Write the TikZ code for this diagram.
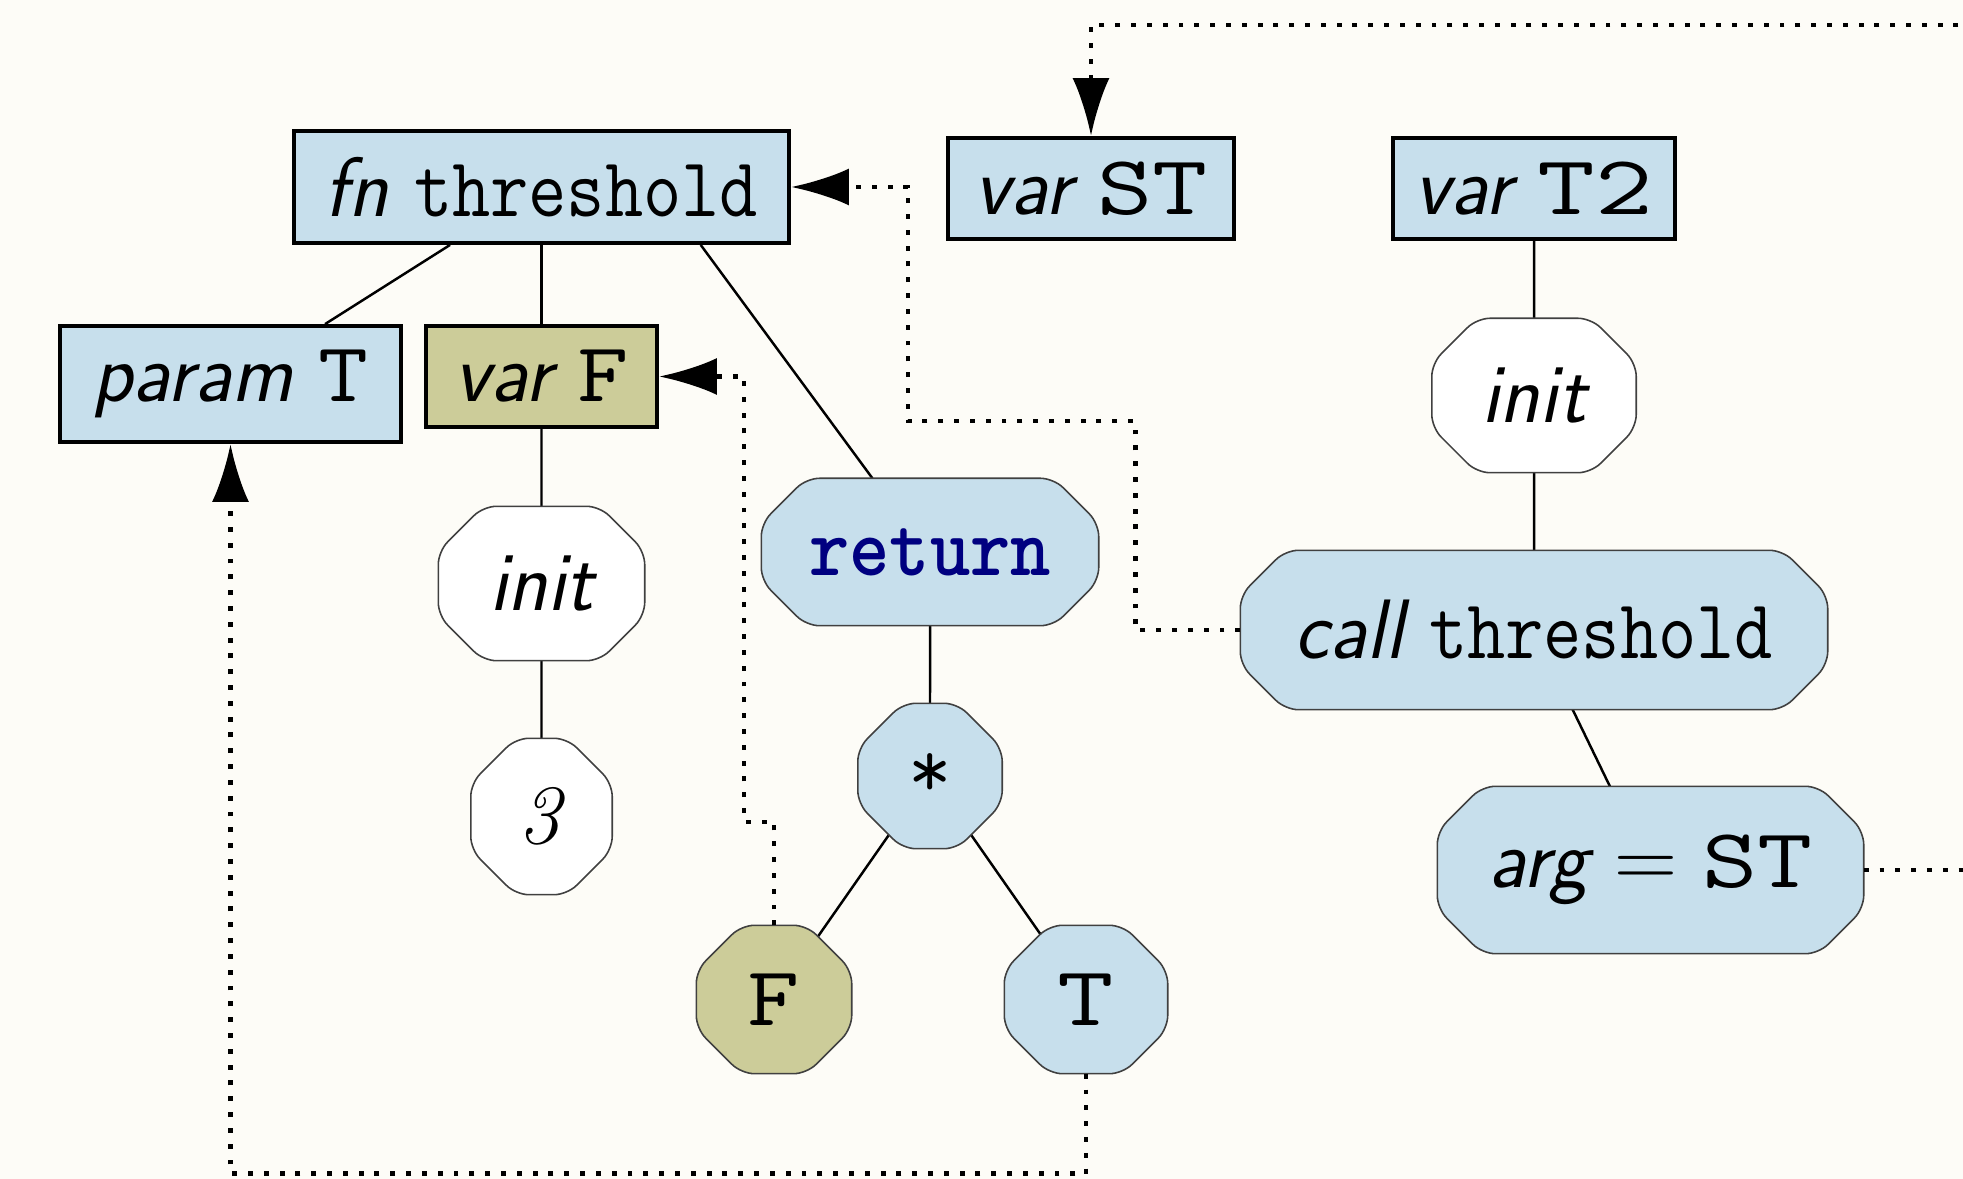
\documentclass[tikz,border=0pt]{standalone}
\usepackage{fontspec}
\usepackage{graphicx}
\usetikzlibrary{shapes.misc,arrows.meta,calc,backgrounds}

\definecolor{astblue}{RGB}{199,223,236}
\definecolor{astolive}{RGB}{204,204,153}
\definecolor{paper}{RGB}{253,252,247}
\definecolor{kwnavy}{RGB}{0,0,128}

\newcommand{\kw}[1]{\scalebox{0.98}[1]{\sffamily\itshape #1}}
\newcommand{\id}[2][0.88]{\scalebox{#1}[1]{\ttfamily #2}}

\tikzset{
  decl/.style={draw, line width=1.1pt, fill=astblue, inner sep=0pt},
  expr/.style={chamfered rectangle, chamfered rectangle xsep=0.45cm, inner sep=0pt},
  octline/.style={draw=black!75, line width=0.45pt, rounded corners=0.13cm},
  link/.style={line width=0.7pt},
  backref/.style={line width=1.3pt, dash pattern=on 1.4pt off 3.1pt,
    -{Latex[length=0.58cm,width=0.37cm]}},
}

\begin{document}
\begin{tikzpicture}[font=\fontsize{24}{28}\selectfont]
\useasboundingbox (0,0) rectangle (19.63,-11.79);

% declarations
\node[decl, minimum width=4.95cm, minimum height=1.12cm] (fnT) at (5.415,-1.87) {\kw{fn} \id{threshold}};
\node[decl, minimum width=2.86cm, minimum height=1.01cm] (varST) at (10.91,-1.885) {\kw{var} \id[1.27]{ST}};
\node[decl, minimum width=2.82cm, minimum height=1.01cm] (varT2) at (15.34,-1.885) {\kw{var} \id[1.33]{T2}};
\node[decl, minimum width=3.41cm, minimum height=1.16cm] (paramT) at (2.305,-3.84) {\kw{param} \id[1.15]{T}};
\node[decl, fill=astolive, minimum width=2.31cm, minimum height=1.01cm] (varF) at (5.415,-3.765) {\kw{var} \id[1.18]{F}};

% expressions
\node[expr, minimum width=2.05cm, minimum height=1.53cm] (initA) at (5.415,-5.835) {\kw{init}};
\node[expr, minimum width=1.40cm, minimum height=1.55cm] (three) at (5.415,-8.165) {\textit{3}};
\node[expr, minimum width=3.36cm, minimum height=1.46cm] (ret) at (9.30,-5.52) {\scalebox{0.91}[1]{\color{kwnavy}\ttfamily\bfseries return}};
\node[expr, minimum width=1.43cm, minimum height=1.44cm] (mul) at (9.30,-7.76) {\id[1]{*}};
\node[expr, minimum width=1.54cm, minimum height=1.47cm] (litF) at (7.74,-9.995) {\id[1.2]{F}};
\node[expr, minimum width=1.62cm, minimum height=1.47cm] (litT) at (10.86,-9.995) {\id[1.3]{T}};
\node[expr, minimum width=2.03cm, minimum height=1.53cm] (initB) at (15.34,-3.955) {\kw{init}};
\node[expr, minimum width=5.86cm, minimum height=1.58cm] (callT) at (15.34,-6.30) {\kw{call} \id{threshold}};
\node[expr, minimum width=4.25cm, minimum height=1.66cm] (argST) at (16.505,-8.70) {\kw{arg} $=$ \id[1.27]{ST}};

\begin{scope}[on background layer]
\fill[paper] (0,0) rectangle (19.63,-11.79);
% tree edges, hidden under the nodes
\draw[link] (fnT) -- (paramT);
\draw[link] (fnT) -- (varF);
\draw[link] (fnT.-20) -- (ret.128);
\draw[link] (varF) -- (initA);
\draw[link] (initA) -- (three);
\draw[link] (ret) -- (mul);
\draw[link] (mul.center) -- (litF.center);
\draw[link] (mul.center) -- (litT.center);
\draw[link] (varT2) -- (initB);
\draw[link] (initB) -- (callT);
\draw[link] (callT.center) -- (argST.center);
% octagon outlines of the expression nodes
\foreach \n/\c in {initA/white, three/white, ret/astblue, mul/astblue, litF/astolive,
                   litT/astblue, initB/white, callT/astblue, argST/astblue}
  \draw[octline, fill=\c] (\n.north)
    -- ($(\n.north -| \n.east)+(-0.45,0)$) -- ($(\n.north -| \n.east)+(0,-0.45)$)
    -- ($(\n.south -| \n.east)+(0,0.45)$) -- ($(\n.south -| \n.east)+(-0.45,0)$)
    -- ($(\n.south -| \n.west)+(0.45,0)$) -- ($(\n.south -| \n.west)+(0,0.45)$)
    -- ($(\n.north -| \n.west)+(0,-0.45)$) -- ($(\n.north -| \n.west)+(0.45,0)$)
    -- cycle;
\end{scope}

% references back to declarations
\draw[backref] (callT.west) -- ++(-1.05,0) |- (9.08,-4.21) |- (fnT.east);
\draw[backref] (litF.north) |- (7.44,-8.22) |- (varF.east);
\draw[backref] (litT.south) -- ++(0,-1.0) -| (paramT.south);
\draw[backref] (argST.east) -- (20.5,-8.70) |- (20.5,-0.25) -| (varST.north);
\end{tikzpicture}
\end{document}
